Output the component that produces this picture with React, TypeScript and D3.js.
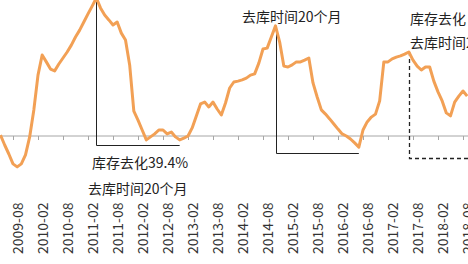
import React from "react";
import * as d3 from "d3";

// month index 0 = 2009-05 ; tick labels start at 2009-08 (index 3)
const startYear = 2009;
const startMonth = 5;
const values: number[] = [
  0.3, -3.0, -6.0, -9.3, -10.3, -9.3, -6.3, -0.3, 8.7, 20.3,
  27.0, 24.7, 22.3, 21.7, 24.0, 26.0, 28.0, 30.3, 33.0, 35.3,
  38.0, 40.7, 43.3, 46.0, 42.7, 40.3, 38.7, 37.0, 38.0, 34.3,
  32.0, 23.7, 8.3, 5.3, 2.0, -1.3, -0.3, 0.7, 2.0, 2.0,
  0.7, 1.3, -0.3, -1.3, -0.7, 0.0, 2.7, 6.7, 10.7, 11.3,
  9.7, 11.3, 9.0, 7.0, 11.0, 16.0, 18.0, 18.3, 18.7, 19.3,
  20.3, 20.7, 24.3, 29.0, 29.3, 33.0, 36.7, 31.3, 23.3, 23.0,
  23.7, 24.7, 24.7, 25.3, 26.0, 17.7, 13.0, 8.7, 7.3, 5.7,
  4.0, 2.3, 0.7, 0.0, -1.0, -2.3, -3.7, 2.0, 4.7, 6.3,
  7.3, 11.7, 24.7, 24.7, 25.7, 26.3, 26.7, 27.3, 28.0, 25.3,
  23.3, 22.0, 23.0, 23.0, 18.3, 14.7, 11.7, 7.7, 6.7, 11.3,
  13.3, 15.0, 13.3,
];
const months: string[] = values.map((_, i) => {
  const t = startMonth - 1 + i;
  const y = startYear + Math.floor(t / 12);
  const m = (t % 12) + 1;
  return `${y}-${m < 10 ? "0" + m : m}`;
});
const tickLabels: string[] = [
  "2009-08", "2010-02", "2010-08", "2011-02", "2011-08", "2012-02", "2012-08",
  "2013-02", "2013-08", "2014-02", "2014-08", "2015-02", "2015-08", "2016-02",
  "2016-08", "2017-02", "2017-08", "2018-02", "2018-08",
];
// annotation boxes: start month, end month (null = to edge), bottom level, dashed
const boxStarts: string[] = ["2011-04", "2014-11", "2017-07"];
const boxEnds: (string | null)[] = ["2012-12", "2016-07", null];
const boxLevels: number[] = [-3.0, -5.5, -7.3];
const boxDashed: boolean[] = [false, false, true];

const W = 468;
const H = 264;
const FONT = "'Noto Sans CJK SC', 'Noto Sans', sans-serif";

export default function App() {
  const idx = (m: string) => months.indexOf(m);
  const x = d3.scaleLinear().domain([idx("2009-08"), idx("2018-08")]).range([13, 463]);
  const y = d3.scaleLinear().domain([0, 40]).range([136, 16]);
  const line = d3
    .line<number>()
    .x((_, i) => x(i))
    .y((d) => y(d))
    .curve(d3.curveLinear);
  const axisY = y(0);

  return (
    <svg
      width={W}
      height={H}
      style={{ position: "fixed", left: 0, top: 0, background: "#fff" }}
      fontFamily={FONT}
    >
      <rect width={W} height={H} fill="#fff" />
      <line x1={0} x2={W} y1={axisY} y2={axisY} stroke="#a6a6a6" strokeWidth={1} />
      {tickLabels.map((t) => {
        const tx = Math.round(x(idx(t))) + 0.5;
        return (
          <g key={t}>
            <line x1={tx} x2={tx} y1={axisY} y2={axisY + 4} stroke="#a6a6a6" />
            <text
              transform={`translate(${tx + 5},254) rotate(-90)`}
              dy="0.35em"
              fontSize={14}
              fill="#333"
              textAnchor="start"
            >
              {t}
            </text>
          </g>
        );
      })}
      {boxStarts.map((s, i) => {
        const i0 = idx(s);
        const e = boxEnds[i];
        const x0 = Math.round(x(i0)) + 0.5;
        const x1 = e ? x(idx(e)) : W;
        const yb = Math.round(y(boxLevels[i])) + 0.5;
        const yt = y(values[i0]);
        const dash = boxDashed[i] ? "4,3" : undefined;
        return (
          <path
            key={s}
            d={`M${x0},${yt}V${yb}H${x1}`}
            fill="none"
            stroke="#222"
            strokeWidth={boxDashed[i] ? 1.3 : 1}
            strokeDasharray={dash}
          />
        );
      })}
      <path
        d={line(values) || ""}
        fill="none"
        stroke="#F2A055"
        strokeWidth={3}
        strokeLinejoin="round"
      />
      <g fontSize={14} fill="#222">
        <text x={92} y={168}>库存去化39.4%</text>
        <text x={88} y={194}>去库时间20个月</text>
        <text x={242} y={22}>去库时间20个月</text>
        <text x={410} y={24}>库存去化</text>
        <text x={410} y={48}>去库时间20个月</text>
      </g>
    </svg>
  );
}
